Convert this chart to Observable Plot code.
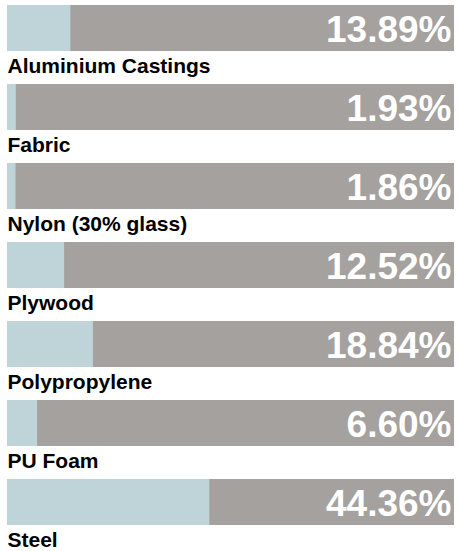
<!DOCTYPE html>
<html>
<head>
<meta charset="utf-8">
<script src="https://cdn.jsdelivr.net/npm/d3@7"></script>
<script src="https://cdn.jsdelivr.net/npm/@observablehq/plot@0.6"></script>
<style>
  html, body { margin: 0; padding: 0; background: #fff; }
  #chart svg { display: block; }
</style>
</head>
<body>
<div id="chart"></div>
<script>
const categories = ["Aluminium Castings", "Fabric", "Nylon (30% glass)", "Plywood", "Polypropylene", "PU Foam", "Steel"];
const values = [13.89, 1.93, 1.86, 12.52, 18.84, 6.60, 44.36];
const trackMax = 98;

const rows = categories.map((c, i) => ({category: c, value: values[i], label: values[i].toFixed(2) + "%"}));

const font = "'Liberation Sans', Arial, Helvetica, sans-serif";

const chart = Plot.plot({
  width: 460,
  height: 551,
  marginLeft: 7,
  marginRight: 6,
  marginTop: 0,
  marginBottom: 0,
  style: {fontFamily: font, background: "#fff"},
  x: {domain: [0, trackMax], axis: null},
  y: {domain: categories, range: [5, 528], paddingInner: 0.4214, paddingOuter: 0, align: 0, axis: null},
  marks: [
    Plot.barX(rows, {y: "category", x1: 0, x2: trackMax, fill: "#a4a19f"}),
    Plot.barX(rows, {y: "category", x1: 0, x2: "value", fill: "#bed4d8"}),
    Plot.text(rows, {
      y: "category", x: trackMax, text: "label",
      textAnchor: "end", lineAnchor: "bottom", dx: -3, dy: 13.5,
      fill: "#fff", fontSize: 37, fontWeight: "bold"
    }),
    Plot.text(rows, {
      y: "category", x: 0, text: "category",
      textAnchor: "start", lineAnchor: "bottom", dx: 0, dy: 44.7,
      fill: "#000", fontSize: 21, fontWeight: "bold"
    })
  ]
});
document.getElementById("chart").appendChild(chart);
</script>
</body>
</html>
